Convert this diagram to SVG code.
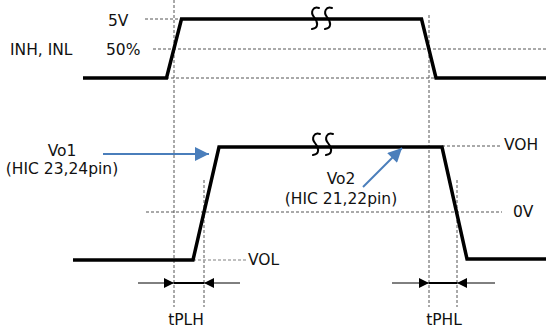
<svg xmlns="http://www.w3.org/2000/svg" width="546" height="331" viewBox="0 0 546 331">
<style>
text{font-family:"DejaVu Sans",Verdana,sans-serif;font-size:15.5px;fill:#111}
.wave{fill:none;stroke:#000;stroke-width:3.5;stroke-linejoin:miter}
.dash{fill:none;stroke:#555;stroke-width:1;stroke-dasharray:3,2}
.dot{fill:none;stroke:#aaa;stroke-width:1.5;stroke-dasharray:3,2}
.brk{fill:none;stroke:#000;stroke-width:2;stroke-linecap:round}
.blue{fill:none;stroke:#4a7ebb;stroke-width:2}
.thin{fill:none;stroke:#000;stroke-width:1}
.mid{fill:none;stroke:#000;stroke-width:2}
</style>
<defs>
<marker id="ba" viewBox="0 0 10 10" refX="10" refY="5" markerWidth="15" markerHeight="14" markerUnits="userSpaceOnUse" orient="auto">
<path d="M0,0 L10,5 L0,10 z" fill="#4a7ebb"/>
</marker>
<marker id="ka" viewBox="0 0 10 10" refX="10" refY="5" markerWidth="10" markerHeight="10" markerUnits="userSpaceOnUse" orient="auto">
<path d="M0,0 L10,5 L0,10 z" fill="#000"/>
</marker>
</defs>
<g id="guides">
<line class="dash" x1="174" y1="0" x2="174" y2="307"/>
<line class="dash" x1="429" y1="15" x2="429" y2="307"/>
<line class="dash" x1="204" y1="180" x2="204" y2="307"/>
<line class="dash" x1="457" y1="180" x2="457" y2="307"/>
<line class="dash" x1="145" y1="19" x2="181" y2="19"/>
<line class="dash" x1="153" y1="49" x2="546" y2="49"/>
<line class="dash" x1="166" y1="78" x2="436" y2="78"/>
<line class="dash" x1="442" y1="146" x2="500" y2="146"/>
<line class="dash" x1="146" y1="212" x2="502" y2="212"/>
<line class="dot" x1="193" y1="260" x2="247" y2="260"/>
</g>
<g id="input-wave">
<polyline class="wave" points="83,78 166.5,78 181.5,19 421.5,19 436,78 546,78"/>
<path class="brk" d="M319,8 C313,6 310,12 314,17 C318,22 319,28 312,29"/>
<path class="brk" d="M332,8 C326,6 323,12 327,17 C331,22 332,28 325,29"/>
</g>
<g id="output-wave">
<polyline class="wave" points="73,260 193,260 219,147 442,147 467,259 546,259"/>
<path class="brk" d="M320,134 C314,132 311,138 315,143 C319,148 320,154 313,155"/>
<path class="brk" d="M333,134 C327,132 324,138 328,143 C332,148 333,154 326,155"/>
</g>
<g id="labels">
<text x="108" y="26">5V</text>
<text x="106" y="55">50%</text>
<text x="10" y="55">INH, INL</text>
<text x="62" y="156" text-anchor="middle">Vo1</text>
<text x="62" y="174" text-anchor="middle">(HIC 23,24pin)</text>
<text x="341" y="184" text-anchor="middle">Vo2</text>
<text x="341" y="204" text-anchor="middle">(HIC 21,22pin)</text>
<text x="504" y="150">VOH</text>
<text x="513" y="217">0V</text>
<text x="248" y="265">VOL</text>
<text x="186" y="325" text-anchor="middle">tPLH</text>
<text x="444" y="325" text-anchor="middle">tPHL</text>
</g>
<g id="connectors">
<line class="blue" x1="103" y1="154" x2="209" y2="154" marker-end="url(#ba)"/>
<line class="blue" x1="363" y1="187" x2="402" y2="148" marker-end="url(#ba)"/>
<line class="thin" x1="138" y1="283" x2="174" y2="283" marker-end="url(#ka)"/>
<line class="mid" x1="174" y1="283" x2="204" y2="283"/>
<line class="thin" x1="240" y1="283" x2="204" y2="283" marker-end="url(#ka)"/>
<line class="thin" x1="392" y1="283" x2="429" y2="283" marker-end="url(#ka)"/>
<line class="mid" x1="429" y1="283" x2="457" y2="283"/>
<line class="thin" x1="495" y1="283" x2="457" y2="283" marker-end="url(#ka)"/>
</g>
</svg>
